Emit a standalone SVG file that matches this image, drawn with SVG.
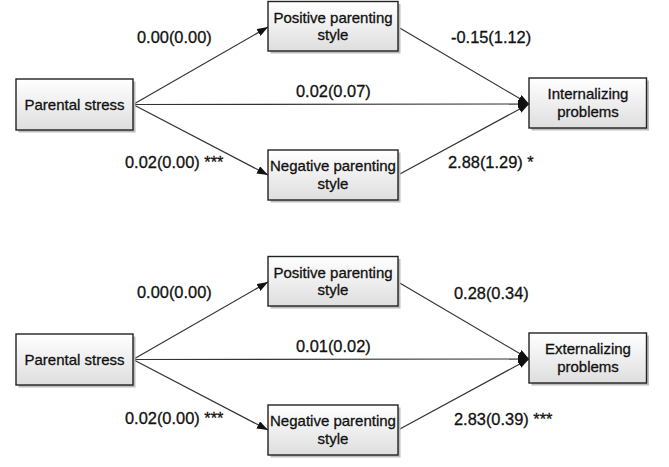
<svg xmlns="http://www.w3.org/2000/svg" width="669" height="467" viewBox="0 0 669 467">
  <defs>
    <linearGradient id="boxfill" x1="0" y1="0" x2="0" y2="1">
      <stop offset="0" stop-color="#ffffff"/>
      <stop offset="1" stop-color="#dedede"/>
    </linearGradient>
    <marker id="arrow" markerUnits="userSpaceOnUse" markerWidth="11" markerHeight="8" refX="11" refY="4" orient="auto">
      <path d="M0,0 L11,4 L0,8 z" fill="#111"/>
    </marker>
  </defs>
  <style>
    .shadow { fill: #bdbdbd; }
    .box { fill: url(#boxfill); stroke: #222; stroke-width: 1.4; }
    .nodetext { font-family: "Liberation Sans", Arial, sans-serif; font-size: 15px; fill: #111; stroke: #111; stroke-width: 0.3; text-anchor: middle; }
    .label { font-family: "Liberation Sans", Arial, sans-serif; font-size: 16.4px; fill: #111; stroke: #111; stroke-width: 0.3; }
    .edge { stroke: #333; stroke-width: 1.2; fill: none; marker-end: url(#arrow); }
  </style>
  <rect width="669" height="467" fill="#ffffff"/>

  <!-- Connectors -->
  <g id="connectors">
    <line class="edge" x1="133" y1="104.5" x2="268" y2="27"/>
    <line class="edge" x1="133" y1="104.5" x2="268" y2="175"/>
    <line class="edge" x1="133" y1="104.5" x2="529" y2="104"/>
    <line class="edge" x1="398" y1="27" x2="529" y2="104"/>
    <line class="edge" x1="398" y1="175" x2="529" y2="104"/>

    <line class="edge" x1="133" y1="359.5" x2="268" y2="282"/>
    <line class="edge" x1="133" y1="359.5" x2="268" y2="430"/>
    <line class="edge" x1="133" y1="359.5" x2="529" y2="359"/>
    <line class="edge" x1="398" y1="282" x2="529" y2="359"/>
    <line class="edge" x1="398" y1="430" x2="529" y2="359"/>
  </g>

  <!-- Edge labels -->
  <g id="labels">
    <text class="label" x="137" y="43">0.00(0.00)</text>
    <text class="label" x="296" y="96.5">0.02(0.07)</text>
    <text class="label" x="125" y="168">0.02(0.00) ***</text>
    <text class="label" x="451" y="42.7">-0.15(1.12)</text>
    <text class="label" x="448" y="168">2.88(1.29) *</text>

    <text class="label" x="137" y="298">0.00(0.00)</text>
    <text class="label" x="296" y="351.6">0.01(0.02)</text>
    <text class="label" x="125" y="424">0.02(0.00) ***</text>
    <text class="label" x="454" y="298.5">0.28(0.34)</text>
    <text class="label" x="454" y="424.5">2.83(0.39) ***</text>
  </g>

  <!-- Top model nodes -->
  <g id="parental-stress-1">
    <rect class="shadow" x="18.5" y="81.5" width="117" height="51"/>
    <rect class="box" x="16" y="79" width="117" height="51"/>
    <text class="nodetext" x="74.5" y="109.5">Parental stress</text>
  </g>
  <g id="positive-parenting-1">
    <rect class="shadow" x="270.5" y="4" width="130" height="49.5"/>
    <rect class="box" x="268" y="1.5" width="130" height="49.5"/>
    <text class="nodetext" x="333" y="22.5">Positive parenting</text>
    <text class="nodetext" x="333" y="40">style</text>
  </g>
  <g id="negative-parenting-1">
    <rect class="shadow" x="270.5" y="152.5" width="130" height="50"/>
    <rect class="box" x="268" y="150" width="130" height="50"/>
    <text class="nodetext" x="333" y="171">Negative parenting</text>
    <text class="nodetext" x="333" y="188.5">style</text>
  </g>
  <g id="internalizing">
    <rect class="shadow" x="531.5" y="80.5" width="117.5" height="50"/>
    <rect class="box" x="529" y="78" width="117.5" height="50"/>
    <text class="nodetext" x="588" y="99.3">Internalizing</text>
    <text class="nodetext" x="588" y="117">problems</text>
  </g>

  <!-- Bottom model nodes -->
  <g id="parental-stress-2">
    <rect class="shadow" x="18.5" y="336.5" width="117" height="51"/>
    <rect class="box" x="16" y="334" width="117" height="51"/>
    <text class="nodetext" x="74.5" y="364.5">Parental stress</text>
  </g>
  <g id="positive-parenting-2">
    <rect class="shadow" x="270.5" y="259" width="130" height="49.5"/>
    <rect class="box" x="268" y="256.5" width="130" height="49.5"/>
    <text class="nodetext" x="333" y="277.5">Positive parenting</text>
    <text class="nodetext" x="333" y="295">style</text>
  </g>
  <g id="negative-parenting-2">
    <rect class="shadow" x="270.5" y="407.5" width="130" height="50"/>
    <rect class="box" x="268" y="405" width="130" height="50"/>
    <text class="nodetext" x="333" y="426">Negative parenting</text>
    <text class="nodetext" x="333" y="443.5">style</text>
  </g>
  <g id="externalizing">
    <rect class="shadow" x="531.5" y="335.5" width="117.5" height="50"/>
    <rect class="box" x="529" y="333" width="117.5" height="50"/>
    <text class="nodetext" x="588" y="354.3">Externalizing</text>
    <text class="nodetext" x="588" y="372">problems</text>
  </g>
</svg>
